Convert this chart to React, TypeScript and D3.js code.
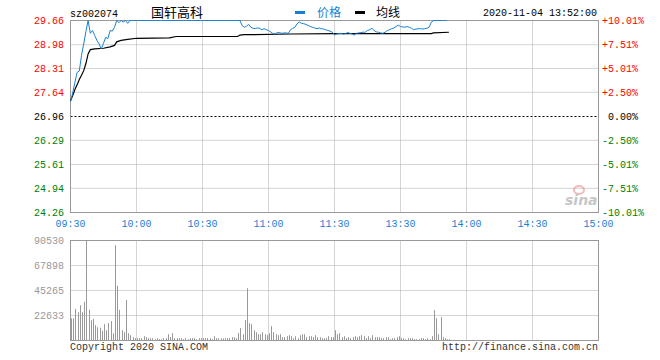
import React from 'react';
import * as d3 from 'd3';

const stockCode = 'sz002074';
const stockName = '国轩高科';
const stampText = '2020-11-04 13:52:00';
const legendNames = ['价格', '均线'];
const preClose = 26.96;
const priceTicks = [29.66, 28.98, 28.31, 27.64, 26.96, 26.29, 25.61, 24.94, 24.26];
const pctTicks = ['+10.01%', '+7.51%', '+5.01%', '+2.50%', '0.00%', '-2.50%', '-5.01%', '-7.51%', '-10.01%'];
const timeTickIdx = [0, 30, 60, 90, 120, 150, 180, 210, 240];
const timeTickLabels = ['09:30', '10:00', '10:30', '11:00', '11:30', '13:30', '14:00', '14:30', '15:00'];
const volTicks = [22633, 45265, 67898, 90530];

const prices = [
  27.38, 27.62, 27.92, 28.20, 28.24, 28.68, 29.00, 29.35, 29.66, 29.30,
  29.38, 29.24, 29.10, 29.00, 28.86, 29.02, 29.19, 29.15, 29.38, 29.36,
  29.47, 29.66, 29.60, 29.66, 29.62, 29.66, 29.58, 29.66,
  29.66, 29.66, 29.66, 29.66, 29.66, 29.66, 29.66, 29.66, 29.66, 29.66,
  29.66, 29.66, 29.66, 29.66, 29.66, 29.66, 29.66, 29.66, 29.66, 29.66,
  29.66, 29.66, 29.66, 29.66, 29.66, 29.66, 29.66, 29.66, 29.66, 29.66,
  29.66, 29.66, 29.66, 29.66, 29.66, 29.66, 29.66, 29.66, 29.66, 29.66,
  29.66, 29.66, 29.66, 29.66, 29.66, 29.66, 29.66, 29.66, 29.66, 29.66,
  29.52, 29.47, 29.50, 29.55, 29.47, 29.44, 29.43, 29.45, 29.44, 29.40,
  29.43, 29.40, 29.38, 29.34, 29.29, 29.28, 29.32, 29.32, 29.30, 29.31,
  29.31, 29.30, 29.40, 29.44, 29.47, 29.57, 29.62, 29.58, 29.57, 29.55,
  29.52, 29.49, 29.47, 29.45, 29.43, 29.45, 29.43, 29.42, 29.40, 29.38,
  29.36, 29.33, 29.25, 29.28, 29.29, 29.30, 29.28, 29.29, 29.32, 29.30,
  29.28, 29.25, 29.30, 29.31, 29.32, 29.33, 29.33, 29.38, 29.40, 29.44,
  29.38, 29.34, 29.33, 29.31, 29.30, 29.33, 29.38, 29.40, 29.43, 29.45,
  29.49, 29.53, 29.49, 29.48, 29.47, 29.49, 29.47, 29.44, 29.40, 29.42,
  29.43, 29.43, 29.42, 29.43, 29.44, 29.47, 29.61,
  29.66, 29.66, 29.66, 29.66, 29.66, 29.66, 29.66,
];

const avgIdx = [0, 1, 2, 3, 4, 5, 6, 7, 8, 9, 11, 15, 18, 20, 21, 23, 26, 30, 45, 48, 76, 77, 79, 100, 120, 164, 165, 172];
const avgVals = [27.40, 27.55, 27.72, 27.85, 28.00, 28.12, 28.25, 28.45, 28.72, 28.84, 28.86, 28.88, 28.92, 28.96, 29.06, 29.10, 29.13, 29.16, 29.17, 29.21, 29.21, 29.25, 29.26, 29.28, 29.29, 29.29, 29.31, 29.33];

const volumes = [
  20000, 20000, 28600, 25600, 32000, 25600, 35000, 90530, 27800, 18400,
  19600, 13900, 12000, 11500, 8800, 14800, 9300, 15700, 17500, 6600,
  86300, 49500, 27800, 9300, 7500, 36800, 6600, 4800, 3000, 2100, 2100,
  2100, 2100, 3900, 3000, 2100, 2100, 2100, 1200, 2100, 1200,
  1200, 2100, 2100, 5700, 3000, 6600, 2100, 2100, 2100, 2100,
  1200, 2100, 1200, 2100, 2100, 2100, 1200, 2100, 2100, 2100,
  2100, 2100, 2100, 1200, 3900, 2100, 2100, 2100, 1800, 2100,
  2100, 2100, 3000, 3000, 2100,
  7000, 11200, 5700, 18400, 47400, 15700, 14800, 9300, 7500, 5700,
  5700, 7500, 5700, 4800, 6600,
  13000, 7500, 5700, 4800, 5700, 3000, 3000, 3900, 4800, 3900,
  2100, 3900, 2100, 4800, 5700, 5700, 3000, 3900, 3900, 3000,
  4800, 3000, 3000, 2100, 2100, 2100, 3900, 3000, 3000, 9300,
  5700, 6600, 3000, 3900, 2100, 3000, 2100, 3000, 3900, 3000,
  3900, 4800, 3900, 2100, 3900, 2100, 4800, 3000, 3000, 3000,
  2100, 2100, 3000, 3000, 1200, 2100, 2100, 3000, 3900, 2100,
  2100, 1200, 2100, 2100, 2100, 1200, 1200, 1200, 2100, 2100,
  1200, 2100, 1200, 3900, 27500,
  20200, 5700, 21400, 3000, 2100, 1200, 1200,
];

const MONO = '"Liberation Mono", "DejaVu Sans Mono", monospace';
const CJK = '"Noto Sans CJK SC", sans-serif';
const RED = '#ff0000';
const GREEN = '#008000';
const BLUE = '#1a7fd4';
const AXIS = '#999999';
const GRID = '#aaaaaa';

function levelColor(v: number) {
  if (v > preClose + 0.001) return RED;
  if (v < preClose - 0.001) return GREEN;
  return '#000000';
}

export default function App() {
  const x = d3.scaleLinear().domain([0, 240]).range([70.5, 598.5]);
  const y = d3.scaleLinear().domain([24.26, 29.66]).range([212.5, 20.5]);
  const vy = d3.scaleLinear().domain([0, 90530]).range([340.5, 240.5]);

  const priceLine = d3.line<number>().x((_, i) => x(i)).y((d) => y(d))(prices) || '';
  const avgLine = d3.line<number>().x((_, i) => x(avgIdx[i])).y((d) => y(d))(avgVals) || '';

  const x0 = x(0), x1 = x(240);
  const innerTimes = timeTickIdx.slice(1, -1);

  return (
    <svg width={660} height={360} style={{ position: 'absolute', left: 0, top: 0, background: '#fff' }}>
      {/* header */}
      <text x={70} y={16.5} fontFamily={MONO} fontSize={10} fill="#000">{stockCode}</text>
      <text x={151} y={17} fontFamily={CJK} fontSize={13} fill="#000">{stockName}</text>
      <rect x={295} y={11} width={10} height={3} fill={BLUE} />
      <text x={317} y={17} fontFamily={CJK} fontSize={12} fill={BLUE}>{legendNames[0]}</text>
      <rect x={355} y={11} width={10} height={3} fill="#000" />
      <text x={376} y={17} fontFamily={CJK} fontSize={12} fill="#000">{legendNames[1]}</text>
      <text x={597} y={16} textAnchor="end" fontFamily={MONO} fontSize={10} fill="#000">{stampText}</text>

      {/* price grid */}
      {priceTicks.slice(1, -1).map((p, i) => (
        <line key={'hg' + i} x1={x0} x2={x1} y1={y(p)} y2={y(p)}
          stroke={i === 3 ? '#000' : GRID} strokeDasharray={i === 3 ? '2,2' : '1,1'} strokeWidth={1} />
      ))}
      {innerTimes.map((t, i) => (
        <line key={'vg' + i} x1={x(t)} x2={x(t)} y1={y(29.66)} y2={y(24.26)} stroke={GRID} strokeDasharray="1,1" />
      ))}

      {/* sina watermark */}
      <g opacity={0.55}>
        <ellipse cx={579} cy={190} rx={5} ry={4} fill="none" stroke="#f08080" strokeWidth={2} />
        <text x={565} y={205} fontFamily="Verdana, DejaVu Sans, sans-serif" fontStyle="italic" fontWeight="bold" fontSize={14} fill="#999">sina</text>
      </g>

      {/* price border */}
      <rect x={x0} y={y(29.66)} width={x1 - x0} height={y(24.26) - y(29.66)} fill="none" stroke={AXIS} />

      {/* lines */}
      <path d={avgLine} fill="none" stroke="#000" strokeWidth={1.2} />
      <path d={priceLine} fill="none" stroke={BLUE} strokeWidth={1} />

      {/* price labels */}
      {priceTicks.map((p, i) => (
        <text key={'pl' + i} x={64} y={y(p) + 3.5} textAnchor="end" fontFamily={MONO} fontSize={10} fill={levelColor(p)}>{p.toFixed(2)}</text>
      ))}
      {pctTicks.map((s, i) => (
        <text key={'pc' + i} x={s.startsWith('+') || s.startsWith('-') ? 602 : 608} y={y(priceTicks[i]) + 3.5}
          fontFamily={MONO} fontSize={10} fill={levelColor(priceTicks[i])}>{s}</text>
      ))}

      {/* time labels */}
      {timeTickIdx.map((t, i) => (
        <text key={'tl' + i} x={x(t)} y={227} textAnchor="middle" fontFamily={MONO} fontSize={10} fill={BLUE}>{timeTickLabels[i]}</text>
      ))}

      {/* volume grid */}
      {volTicks.slice(0, -1).map((v, i) => (
        <line key={'vhg' + i} x1={x0} x2={x1} y1={vy(v)} y2={vy(v)} stroke={GRID} strokeDasharray="1,1" />
      ))}
      {innerTimes.map((t, i) => (
        <line key={'vvg' + i} x1={x(t)} x2={x(t)} y1={vy(90530)} y2={vy(0)} stroke={GRID} strokeDasharray="1,1" />
      ))}

      {/* volume bars */}
      {volumes.map((v, i) => (
        <rect key={'vb' + i} x={Math.floor(x(i)) + 1} y={vy(v)} width={1} height={vy(0) - vy(v)} fill="#999" />
      ))}

      <rect x={x0} y={vy(90530)} width={x1 - x0} height={vy(0) - vy(90530)} fill="none" stroke={AXIS} />

      {volTicks.map((v, i) => (
        <text key={'vl' + i} x={64} y={vy(v) + 3.5} textAnchor="end" fontFamily={MONO} fontSize={10} fill="#999">{v}</text>
      ))}

      {/* footer */}
      <text x={70} y={350} fontFamily={MONO} fontSize={10} fill="#333">Copyright 2020 SINA.COM</text>
      <text x={598} y={350} textAnchor="end" fontFamily={MONO} fontSize={10} fill="#333">http://finance.sina.com.cn</text>
    </svg>
  );
}
